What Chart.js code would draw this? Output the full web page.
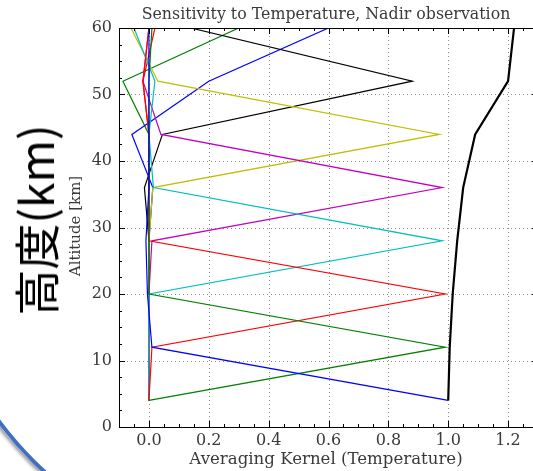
<!DOCTYPE html>
<html>
<head>
<meta charset="utf-8">
<script src="https://cdn.jsdelivr.net/npm/chart.js@4.4.1/dist/chart.umd.min.js"></script>
<style>
  html, body { margin: 0; padding: 0; background: #fff; overflow: hidden; width: 533px; height: 471px; }
  #wrap { position: absolute; left: 0; top: 0; width: 545px; height: 471px; }
  #bigLabel {
    position: absolute; left: 34px; top: 220px;
    transform: translate(-50%, -50%) rotate(-90deg);
    font-family: "Noto Sans CJK JP", "Noto Sans CJK SC", sans-serif;
    font-size: 46px; color: #000; white-space: nowrap; line-height: 1;
  }
  #arc {
    position: absolute; left: -78px; top: -182px; width: 756px; height: 756px;
    border-radius: 50%; border: 4px solid #3f6fc4; box-sizing: border-box;
    box-shadow: -2px 2px 3px rgba(0,0,0,0.35);
  }
</style>
</head>
<body>
<div id="arc"></div>
<div id="wrap"><canvas id="c" width="545" height="471"></canvas></div>
<div id="bigLabel">高度(km)</div>
<script>
// ---- data ----
const altitudes = [4, 12, 20, 28, 36, 44, 52, 60];
const kernel04 = [1.00, 0.01, -0.005, -0.01, 0.00, 0.00, 0.00, 0.00];
const kernel12 = [0.00, 0.99, 0.00, 0.00, 0.00, 0.00, 0.00, 0.01];
const kernel20 = [0.00, 0.01, 0.99, 0.00, 0.00, 0.00, -0.02, 0.00];
const kernel28 = [0.00, 0.00, 0.00, 0.98, 0.015, 0.00, 0.02, -0.05];
const kernel36 = [0.00, 0.00, 0.00, 0.01, 0.98, 0.04, -0.02, 0.00];
const kernel44 = [0.00, 0.00, 0.00, 0.00, 0.013, 0.97, 0.03, -0.06];
const kernel52 = [0.00, 0.00, 0.00, 0.00, -0.015, 0.045, 0.88, 0.14];
const kernel60 = [0.00, 0.00, 0.00, 0.00, 0.013, -0.057, 0.20, 0.60];
const kernel68 = [0.00, 0.00, 0.00, 0.00, 0.00, 0.00, -0.087, 0.30];
const kernel76 = [0.00, 0.00, 0.00, 0.00, 0.00, 0.00, -0.02, 0.02];
const kernelSum = [1.00, 1.005, 1.015, 1.03, 1.05, 1.09, 1.20, 1.22];
const xTickValues = [0.0, 0.2, 0.4, 0.6, 0.8, 1.0, 1.2];
const yTickValues = [0, 10, 20, 30, 40, 50, 60];
const titleText = 'Sensitivity to Temperature, Nadir observation';
const xTitle = 'Averaging Kernel (Temperature)';
const yTitle = 'Altitude [km]';

const kernelSeries = [
  {vals: kernel04, color: '#0000ff'},
  {vals: kernel12, color: '#008000'},
  {vals: kernel20, color: '#ff0000'},
  {vals: kernel28, color: '#00bfbf'},
  {vals: kernel36, color: '#bf00bf'},
  {vals: kernel44, color: '#bfbf00'},
  {vals: kernel52, color: '#000000'},
  {vals: kernel60, color: '#0000ff'},
  {vals: kernel68, color: '#008000'},
  {vals: kernel76, color: '#ff0000'}
];

const toPts = vals => vals.map((v, i) => ({x: v, y: altitudes[i]}));
const datasets = kernelSeries.map(s => ({
  data: toPts(s.vals), borderColor: s.color, borderWidth: 1.2,
  showLine: true, pointRadius: 0, fill: false, tension: 0
}));
datasets.push({data: toPts(kernelSum), borderColor: '#000', borderWidth: 2.2,
  showLine: true, pointRadius: 0, fill: false, tension: 0});

const TEXT = '#3a3a3a';
const SERIF = '"DejaVu Serif", "Liberation Serif", serif';

const axesPlugin = {
  id: 'mplAxes',
  beforeDatasetsDraw(chart) {
    const {ctx, chartArea: a, scales: {x, y}} = chart;
    ctx.save();
    ctx.strokeStyle = 'rgba(0,0,0,0.45)';
    ctx.lineWidth = 1;
    ctx.setLineDash([1, 3]);
    xTickValues.forEach(v => {
      const px = Math.round(x.getPixelForValue(v)) + 0.5;
      ctx.beginPath(); ctx.moveTo(px, a.top); ctx.lineTo(px, a.bottom); ctx.stroke();
    });
    yTickValues.forEach(v => {
      const py = Math.round(y.getPixelForValue(v)) + 0.5;
      ctx.beginPath(); ctx.moveTo(a.left, py); ctx.lineTo(a.right, py); ctx.stroke();
    });
    ctx.restore();
  },
  afterDatasetsDraw(chart) {
    const {ctx, chartArea: a, scales: {x, y}} = chart;
    ctx.save();
    ctx.strokeStyle = '#000';
    ctx.lineWidth = 1;
    ctx.setLineDash([]);
    ctx.strokeRect(Math.round(a.left) + 0.5, Math.round(a.top) + 0.5,
      Math.round(a.right - a.left), Math.round(a.bottom - a.top));
    const xt = (v, len) => {
      const px = Math.round(x.getPixelForValue(v)) + 0.5;
      ctx.beginPath();
      ctx.moveTo(px, a.bottom); ctx.lineTo(px, a.bottom - len);
      ctx.moveTo(px, a.top); ctx.lineTo(px, a.top + len);
      ctx.stroke();
    };
    const yt = (v, len) => {
      const py = Math.round(y.getPixelForValue(v)) + 0.5;
      ctx.beginPath();
      ctx.moveTo(a.left, py); ctx.lineTo(a.left + len, py);
      ctx.moveTo(a.right, py); ctx.lineTo(a.right - len, py);
      ctx.stroke();
    };
    for (let i = -2; i <= 26; i++) {
      const v = i * 0.05;
      const major = xTickValues.some(t => Math.abs(t - v) < 1e-6);
      xt(v, major ? 6 : 3);
    }
    for (let i = 0; i <= 24; i++) {
      const v = i * 2.5;
      const major = yTickValues.some(t => Math.abs(t - v) < 1e-6);
      yt(v, major ? 6 : 3);
    }
    ctx.fillStyle = TEXT;
    ctx.textAlign = 'center';
    ctx.textBaseline = 'middle';
    ctx.font = '15.8px ' + SERIF;
    ctx.fillText(titleText, 326, 15);
    ctx.font = '16.6px ' + SERIF;
    ctx.fillText(xTitle, 326, 460);
    ctx.save();
    ctx.translate(76, 226);
    ctx.rotate(-Math.PI / 2);
    ctx.font = '15px ' + SERIF;
    ctx.fillText(yTitle, 0, 0);
    ctx.restore();
    ctx.restore();
  }
};

new Chart(document.getElementById('c'), {
  type: 'scatter',
  data: {datasets},
  options: {
    responsive: false,
    animation: false,
    devicePixelRatio: 1,
    layout: {padding: {top: 28, right: 7, left: 0, bottom: 0}},
    plugins: {legend: {display: false}, tooltip: {enabled: false}, title: {display: false}},
    scales: {
      x: {
        type: 'linear', min: -0.1, max: 1.3,
        grid: {display: false, drawTicks: false},
        border: {display: false},
        afterBuildTicks: s => { s.ticks = xTickValues.map(v => ({value: v})); },
        afterFit: s => { s.height = 44; },
        ticks: {color: TEXT, font: {family: SERIF, size: 16}, padding: 4,
          maxRotation: 0, autoSkip: false, callback: v => Number(v).toFixed(1)}
      },
      y: {
        type: 'linear', min: 0, max: 60,
        grid: {display: false, drawTicks: false},
        border: {display: false},
        afterBuildTicks: s => { s.ticks = yTickValues.map(v => ({value: v})); },
        afterFit: s => { s.width = 119; },
        ticks: {color: TEXT, font: {family: SERIF, size: 16}, padding: 7,
          autoSkip: false, callback: v => String(v)}
      }
    }
  },
  plugins: [axesPlugin]
});
</script>
</body>
</html>
